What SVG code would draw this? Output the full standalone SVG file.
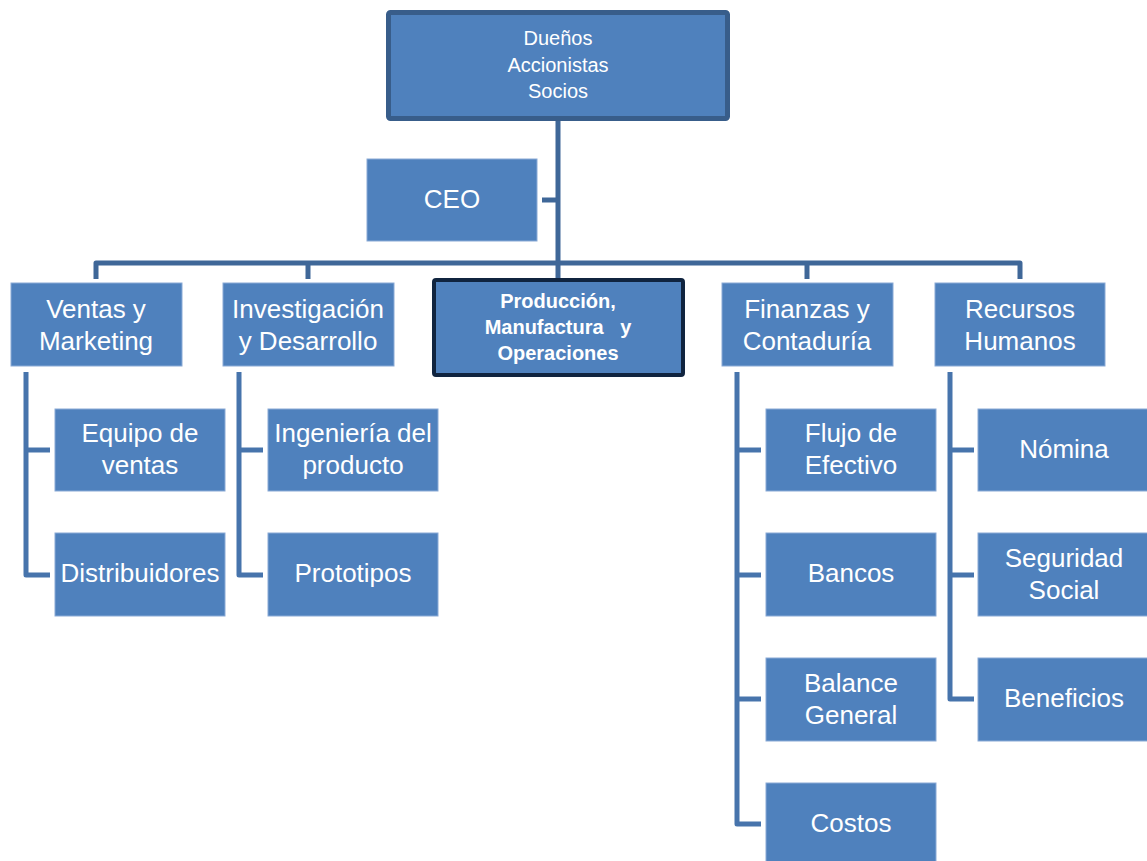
<svg xmlns="http://www.w3.org/2000/svg" width="1147" height="861" viewBox="0 0 1147 861">
<style>
.box{fill:#4F81BD;stroke:#8AAAD6;stroke-width:1}
.t{font-family:"Liberation Sans",Arial,sans-serif;font-size:26px;fill:#FFFFFF;text-anchor:middle}
.ts{font-family:"Liberation Sans",Arial,sans-serif;font-size:20px;fill:#FFFFFF;text-anchor:middle}
.tb{font-family:"Liberation Sans",Arial,sans-serif;font-size:20px;font-weight:bold;fill:#FFFFFF;text-anchor:middle;white-space:pre}
.c1{fill:none;stroke:#3F6798;stroke-width:5;stroke-linejoin:round;stroke-linecap:butt}
.c2{fill:none;stroke:#4774AC;stroke-width:5;stroke-linejoin:round;stroke-linecap:butt}
</style>
<rect width="1147" height="861" fill="#FFFFFF"/>
<g id="connectors">
<path class="c1" d="M558,121 V280"/>
<path class="c1" d="M542,200 H558"/>
<path class="c1" d="M96,279 V263 H1020 V279"/>
<path class="c1" d="M308,263 V279"/>
<path class="c1" d="M807,263 V279"/>
<path class="c2" d="M26,372 V575 H50"/>
<path class="c2" d="M26,450 H50"/>
<path class="c2" d="M239,372 V575 H263"/>
<path class="c2" d="M239,450 H263"/>
<path class="c2" d="M737,372 V824 H761"/>
<path class="c2" d="M737,450 H761"/>
<path class="c2" d="M737,575 H761"/>
<path class="c2" d="M737,699 H761"/>
<path class="c2" d="M950,372 V699 H974"/>
<path class="c2" d="M950,450 H974"/>
<path class="c2" d="M950,575 H974"/>
</g>
<g id="duenos">
<rect x="388.5" y="12.5" width="339" height="106" rx="2" fill="#4F81BD" stroke="#385D8A" stroke-width="5"/>
<text class="ts" x="558" y="45">Dueños</text>
<text class="ts" x="558" y="72">Accionistas</text>
<text class="ts" x="558" y="98">Socios</text>
</g>
<g id="ceo">
<rect class="box" x="367" y="159" width="170" height="82"/>
<text class="t" x="452" y="208">CEO</text>
</g>
<g id="ventas">
<rect class="box" x="11" y="283" width="171" height="83"/>
<text class="t" x="96" y="318">Ventas y</text>
<text class="t" x="96" y="350">Marketing</text>
</g>
<g id="investigacion">
<rect class="box" x="223" y="283" width="171" height="83"/>
<text class="t" x="308" y="318">Investigación</text>
<text class="t" x="308" y="350">y Desarrollo</text>
</g>
<g id="produccion">
<rect x="434" y="280" width="249" height="95" rx="2" fill="#4F81BD" stroke="#10243F" stroke-width="4"/>
<text class="tb" x="558" y="308">Producción,</text>
<text class="tb" x="558" y="334">Manufactura   y</text>
<text class="tb" x="558" y="360">Operaciones</text>
</g>
<g id="finanzas">
<rect class="box" x="722" y="283" width="171" height="83"/>
<text class="t" x="807" y="318">Finanzas y</text>
<text class="t" x="807" y="350">Contaduría</text>
</g>
<g id="recursos">
<rect class="box" x="935" y="283" width="170" height="83"/>
<text class="t" x="1020" y="318">Recursos</text>
<text class="t" x="1020" y="350">Humanos</text>
</g>
<g id="equipo">
<rect class="box" x="55" y="409" width="170" height="82"/>
<text class="t" x="140" y="442">Equipo de</text>
<text class="t" x="140" y="474">ventas</text>
</g>
<g id="distribuidores">
<rect class="box" x="55" y="533" width="170" height="83"/>
<text class="t" x="140" y="582">Distribuidores</text>
</g>
<g id="ingenieria">
<rect class="box" x="268" y="409" width="170" height="82"/>
<text class="t" x="353" y="442">Ingeniería del</text>
<text class="t" x="353" y="474">producto</text>
</g>
<g id="prototipos">
<rect class="box" x="268" y="533" width="170" height="83"/>
<text class="t" x="353" y="582">Prototipos</text>
</g>
<g id="flujo">
<rect class="box" x="766" y="409" width="170" height="82"/>
<text class="t" x="851" y="442">Flujo de</text>
<text class="t" x="851" y="474">Efectivo</text>
</g>
<g id="bancos">
<rect class="box" x="766" y="533" width="170" height="83"/>
<text class="t" x="851" y="582">Bancos</text>
</g>
<g id="balance">
<rect class="box" x="766" y="658" width="170" height="83"/>
<text class="t" x="851" y="692">Balance</text>
<text class="t" x="851" y="724">General</text>
</g>
<g id="costos">
<rect class="box" x="766" y="783" width="170" height="83"/>
<text class="t" x="851" y="832">Costos</text>
</g>
<g id="nomina">
<rect class="box" x="978" y="409" width="172" height="82"/>
<text class="t" x="1064" y="458">Nómina</text>
</g>
<g id="seguridad">
<rect class="box" x="978" y="533" width="172" height="83"/>
<text class="t" x="1064" y="567">Seguridad</text>
<text class="t" x="1064" y="599">Social</text>
</g>
<g id="beneficios">
<rect class="box" x="978" y="658" width="172" height="83"/>
<text class="t" x="1064" y="707">Beneficios</text>
</g>
</svg>
